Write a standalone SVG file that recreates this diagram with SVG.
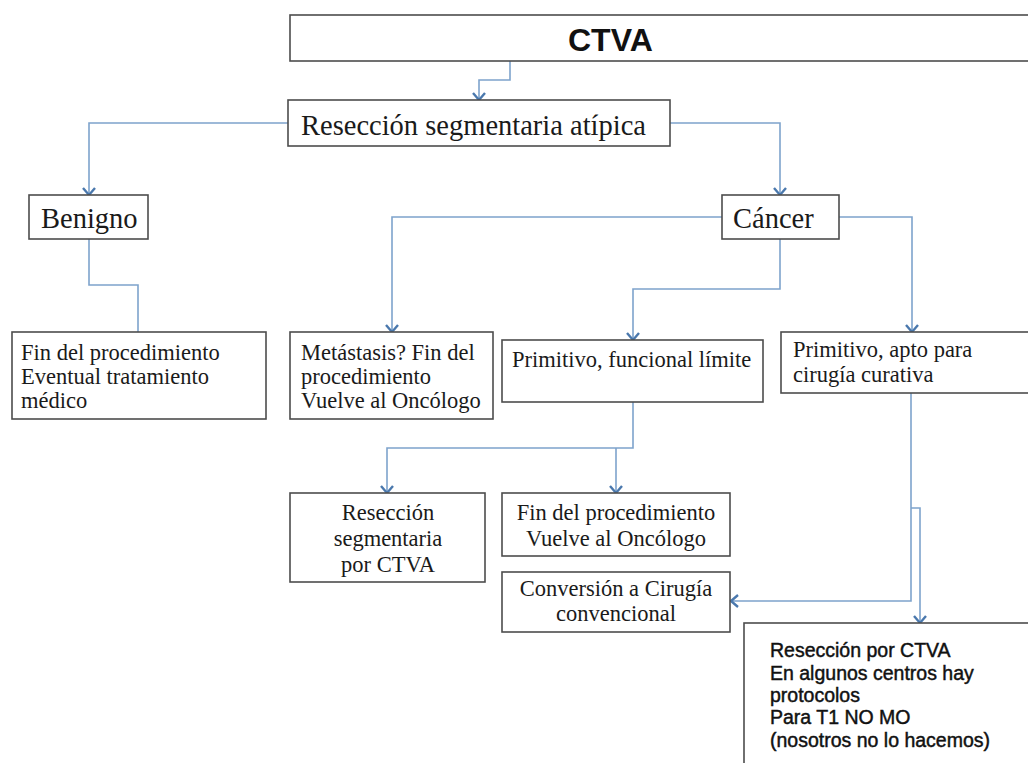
<svg xmlns="http://www.w3.org/2000/svg" width="1028" height="763" viewBox="0 0 1028 763">
  <style>
    .box { fill: #ffffff; stroke: #4d4d4d; stroke-width: 1.6; }
    .serif { font-family: "Liberation Serif", "Times New Roman", serif; fill: #1a1a1a; }
    .big { font-size: 28.5px; }
    .small { font-size: 22.5px; }
    .sans { font-family: "Liberation Sans", Arial, sans-serif; fill: #111111; }
    .note { font-size: 19.5px; stroke: #111111; stroke-width: 0.45; }
    .link { fill: none; stroke: #7ea3cc; stroke-width: 1.6; }
    .arrow { marker-end: url(#chev); }
  </style>
  <defs>
    <marker id="chev" markerUnits="userSpaceOnUse" markerWidth="16" markerHeight="16" viewBox="0 0 16 16" refX="10" refY="8" orient="auto">
      <path d="M3,2 L10,8 L3,14" fill="none" stroke="#4a78ad" stroke-width="2.4"/>
    </marker>
  </defs>

  <rect width="1028" height="763" fill="#ffffff"/>

  <!-- connectors -->
  <g id="connectors">
    <path class="link arrow" d="M510,61 V80 H479 V100"/>
    <path class="link arrow" d="M288,123 H89 V195"/>
    <path class="link arrow" d="M670,123 H780 V195"/>
    <path class="link" d="M89,239 V285 H138 V332"/>
    <path class="link arrow" d="M722,217 H392 V332"/>
    <path class="link arrow" d="M780,239 V289 H633 V340"/>
    <path class="link arrow" d="M839,217 H912 V332"/>
    <path class="link arrow" d="M633,402 V448 H387 V493"/>
    <path class="link arrow" d="M616,448 V493"/>
    <path class="link arrow" d="M911,393 V601 H731"/>
    <path class="link arrow" d="M911,508 H920 V623"/>
  </g>

  <!-- nodes -->
  <g id="ctva">
    <rect class="box" x="290" y="15" width="760" height="46"/>
    <text class="sans" x="568" y="51" font-size="32" font-weight="bold">CTVA</text>
  </g>

  <g id="reseccion-atipica">
    <rect class="box" x="288" y="100" width="382" height="46"/>
    <text class="serif big" x="301" y="135">Resección segmentaria atípica</text>
  </g>

  <g id="benigno">
    <rect class="box" x="29" y="195" width="119" height="44"/>
    <text class="serif big" x="41" y="228">Benigno</text>
  </g>

  <g id="cancer">
    <rect class="box" x="722" y="195" width="117" height="44"/>
    <text class="serif big" x="733" y="228">Cáncer</text>
  </g>

  <g id="fin-benigno">
    <rect class="box" x="12" y="332" width="254" height="87"/>
    <text class="serif small" x="21" y="360">Fin del procedimiento</text>
    <text class="serif small" x="21" y="384">Eventual tratamiento</text>
    <text class="serif small" x="21" y="408">médico</text>
  </g>

  <g id="metastasis">
    <rect class="box" x="290" y="332" width="203" height="87"/>
    <text class="serif small" x="301" y="360">Metástasis? Fin del</text>
    <text class="serif small" x="301" y="384">procedimiento</text>
    <text class="serif small" x="301" y="408">Vuelve al Oncólogo</text>
  </g>

  <g id="primitivo-limite">
    <rect class="box" x="502" y="340" width="261" height="62"/>
    <text class="serif small" x="512" y="367">Primitivo, funcional límite</text>
  </g>

  <g id="primitivo-apto">
    <rect class="box" x="781" y="332" width="260" height="61"/>
    <text class="serif small" x="793" y="357">Primitivo, apto para</text>
    <text class="serif small" x="793" y="382">cirugía curativa</text>
  </g>

  <g id="reseccion-segmentaria">
    <rect class="box" x="290" y="493" width="195" height="89"/>
    <text class="serif small" x="388" y="520" text-anchor="middle">Resección</text>
    <text class="serif small" x="388" y="546" text-anchor="middle">segmentaria</text>
    <text class="serif small" x="388" y="572" text-anchor="middle">por CTVA</text>
  </g>

  <g id="fin-oncologo">
    <rect class="box" x="502" y="493" width="228" height="63"/>
    <text class="serif small" x="616" y="520" text-anchor="middle">Fin del procedimiento</text>
    <text class="serif small" x="616" y="546" text-anchor="middle">Vuelve al Oncólogo</text>
  </g>

  <g id="conversion">
    <rect class="box" x="502" y="572" width="228" height="60"/>
    <text class="serif small" x="616" y="596" text-anchor="middle">Conversión a Cirugía</text>
    <text class="serif small" x="616" y="621" text-anchor="middle">convencional</text>
  </g>

  <g id="reseccion-ctva">
    <rect class="box" x="744" y="623" width="300" height="160"/>
    <text class="sans note" x="770" y="657">Resección por CTVA</text>
    <text class="sans note" x="770" y="680">En algunos centros hay</text>
    <text class="sans note" x="770" y="702">protocolos</text>
    <text class="sans note" x="770" y="724">Para T1 NO MO</text>
    <text class="sans note" x="770" y="747">(nosotros no lo hacemos)</text>
  </g>
</svg>
